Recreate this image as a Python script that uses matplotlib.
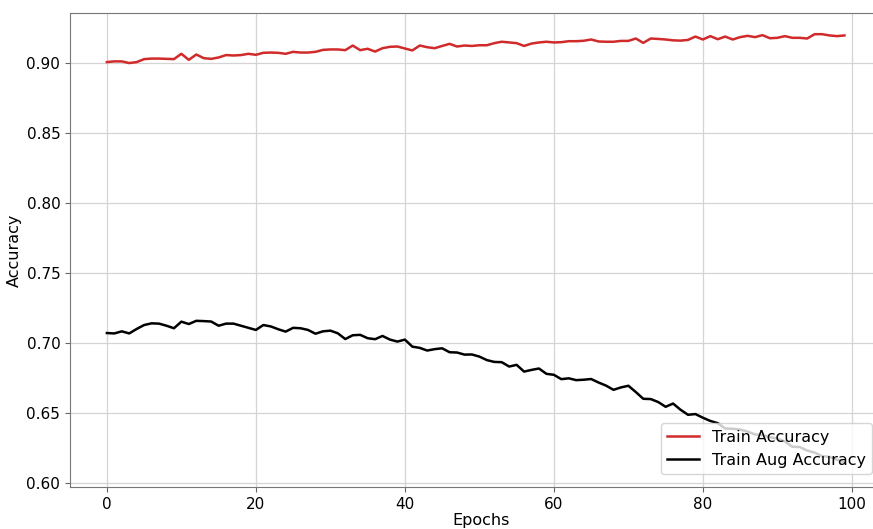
import matplotlib.pyplot as plt
import numpy as np

epochs = np.arange(100)

train_acc = [
    0.9005, 0.9010, 0.9010, 0.8998, 0.9005, 0.9026, 0.9030, 0.9030, 0.9028, 0.9026,
    0.9064, 0.9021, 0.9059, 0.9033, 0.9028, 0.9038, 0.9055, 0.9052, 0.9055, 0.9064,
    0.9057, 0.9071, 0.9073, 0.9071, 0.9064, 0.9078, 0.9073, 0.9073, 0.9078, 0.9092,
    0.9095, 0.9095, 0.9090, 0.9123, 0.9090, 0.9100, 0.9080, 0.9104, 0.9114, 0.9116,
    0.9102, 0.9088, 0.9123, 0.9111, 0.9104, 0.9120, 0.9135, 0.9116, 0.9123, 0.9120,
    0.9125, 0.9125, 0.9140, 0.9150, 0.9145, 0.9140, 0.9120, 0.9137, 0.9145, 0.9150,
    0.9145, 0.9147, 0.9154, 0.9154, 0.9157, 0.9166, 0.9152, 0.9150, 0.9150, 0.9156,
    0.9156, 0.9173, 0.9142, 0.9173, 0.9170, 0.9166, 0.9160, 0.9158, 0.9163, 0.9187,
    0.9166, 0.9190, 0.9168, 0.9187, 0.9166, 0.9183, 0.9192, 0.9183, 0.9197, 0.9175,
    0.9178, 0.9190, 0.9178, 0.9178, 0.9173, 0.9204, 0.9204, 0.9195, 0.9190, 0.9195,
]

train_aug_acc = [
    0.7073, 0.7070, 0.7085, 0.7070, 0.7102, 0.7130, 0.7142, 0.7140, 0.7125, 0.7107,
    0.7154, 0.7137, 0.7160, 0.7158, 0.7155, 0.7125, 0.7140, 0.7140, 0.7125, 0.7110,
    0.7095, 0.7130, 0.7120, 0.7100, 0.7083, 0.7110, 0.7107, 0.7095, 0.7068, 0.7085,
    0.7090, 0.7071, 0.7030, 0.7057, 0.7060, 0.7036, 0.7029, 0.7052, 0.7026, 0.7012,
    0.7026, 0.6976, 0.6967, 0.6948, 0.6958, 0.6964, 0.6936, 0.6934, 0.6919, 0.6920,
    0.6905, 0.6880, 0.6867, 0.6865, 0.6834, 0.6846, 0.6798, 0.6810, 0.6820, 0.6782,
    0.6775, 0.6744, 0.6750, 0.6737, 0.6740, 0.6745, 0.6720, 0.6698, 0.6668, 0.6685,
    0.6697, 0.6652, 0.6604, 0.6602, 0.6581, 0.6547, 0.6570, 0.6526, 0.6490, 0.6495,
    0.6469, 0.6446, 0.6430, 0.6392, 0.6390, 0.6385, 0.6370, 0.6350, 0.6345, 0.6330,
    0.6320, 0.6300, 0.6262, 0.6260, 0.6235, 0.6220, 0.6195, 0.6190, 0.6170, 0.6150,
]

x_lo, x_hi = -4.95, 105.5
px_per_epoch = 7.45

fig = plt.figure(figsize=(8.73, 5.29), dpi=100)
# right spine sits past the canvas edge
ax_w = (x_hi - x_lo) * px_per_epoch
ax = fig.add_axes([70 / 873, 1 - 487 / 529, ax_w / 873, 474 / 529])

ax.plot(epochs, train_acc, color="#d12a2a", linewidth=1.8, label="Train Accuracy")
ax.plot(epochs, train_aug_acc, color="black", linewidth=1.8, label="Train Aug Accuracy")

ax.set_xlim(x_lo, x_hi)
ax.set_ylim(0.5975, 0.9355)
ax.set_xticks([0, 20, 40, 60, 80, 100])
ax.set_yticks([0.60, 0.65, 0.70, 0.75, 0.80, 0.85, 0.90])
ax.yaxis.set_major_formatter(plt.FormatStrFormatter("%.2f"))
ax.tick_params(labelsize=11, color="#666666")
ax.grid(True, color="#d4d4d4", linewidth=0.9)
for spine in ax.spines.values():
    spine.set_color("#777777")

ax.set_xlabel("Epochs", fontsize=11.5, labelpad=1)
ax.set_ylabel("Accuracy", fontsize=11.5, labelpad=3)

ax.legend(
    loc="lower right",
    bbox_to_anchor=(880 / 873, 47 / 529),
    bbox_transform=fig.transFigure,
    fontsize=11.5,
    framealpha=0.8,
    borderpad=0.4,
)

fig.savefig("out.png", dpi=100)
